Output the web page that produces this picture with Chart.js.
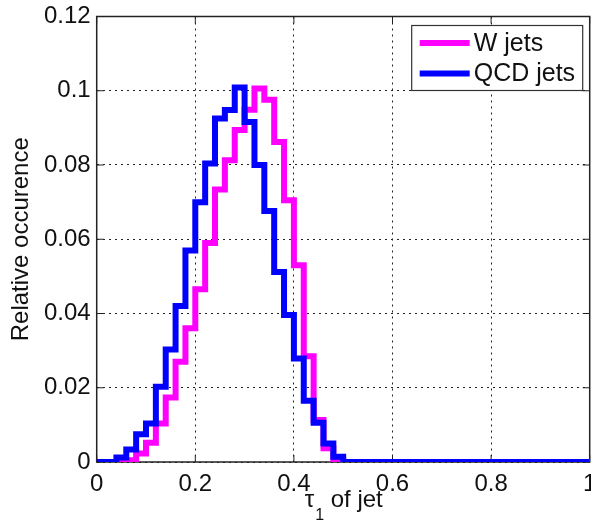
<!DOCTYPE html>
<html>
<head>
<meta charset="utf-8">
<script src="https://cdn.jsdelivr.net/npm/chart.js@4"></script>
<style>
  html, body { margin: 0; padding: 0; background: #fff; }
  #wrap { width: 591px; height: 520px; }
</style>
</head>
<body>
<div id="wrap"><canvas id="canvas" width="591" height="520"></canvas></div>
<script>
// lower edge of each histogram bin (last point closes the line at x = 1)
const binEdges = [0, 0.02, 0.04, 0.06, 0.08, 0.10, 0.12, 0.14, 0.16, 0.18, 0.20, 0.22, 0.24,
                  0.26, 0.28, 0.30, 0.32, 0.34, 0.36, 0.38, 0.40, 0.42, 0.44, 0.46, 0.48, 0.50, 1.0];
const wJets   = [0, 0, 0, 0.0005, 0.0023, 0.0052, 0.0104, 0.0174, 0.027, 0.036, 0.0465, 0.059, 0.0734,
                 0.0813, 0.0894, 0.0949, 0.1006, 0.0976, 0.0862, 0.0705, 0.053, 0.0285, 0.0113, 0.0037, 0.0005, 0, 0];
const qcdJets = [0, 0, 0.0012, 0.0034, 0.0075, 0.0104, 0.0203, 0.0303, 0.042, 0.057, 0.070, 0.0804, 0.0925,
                 0.0948, 0.1009, 0.0916, 0.080, 0.0676, 0.0512, 0.0396, 0.0279, 0.0165, 0.0106, 0.005, 0.0014, 0, 0];
const seriesNames = ['W jets', 'QCD jets'];
const xTickValues = [0, 0.2, 0.4, 0.6, 0.8, 1];
const yTickValues = [0, 0.02, 0.04, 0.06, 0.08, 0.1, 0.12];

const FONT = "'Liberation Sans', Arial, sans-serif";

function toPoints(vals) {
    return binEdges.map((x, i) => ({ x: x, y: vals[i] }));
}

// box, inward ticks, legend and x label drawn like the matlab figure
const matlabAxes = {
    id: 'matlabAxes',
    beforeDatasetsDraw(chart) {
        const { ctx, chartArea: a, scales } = chart;
        ctx.save();
        ctx.strokeStyle = '#222';
        ctx.lineWidth = 1.5;
        ctx.strokeRect(a.left, a.top, a.right - a.left, a.bottom - a.top);
        ctx.lineWidth = 1;
        const tl = 7;
        ctx.beginPath();
        xTickValues.forEach(v => {
            const px = scales.x.getPixelForValue(v);
            ctx.moveTo(px, a.bottom); ctx.lineTo(px, a.bottom - tl);
            ctx.moveTo(px, a.top); ctx.lineTo(px, a.top + tl);
        });
        yTickValues.forEach(v => {
            const py = scales.y.getPixelForValue(v);
            ctx.moveTo(a.left, py); ctx.lineTo(a.left + tl, py);
            ctx.moveTo(a.right, py); ctx.lineTo(a.right - tl, py);
        });
        ctx.stroke();
        ctx.restore();
    },
    afterDraw(chart) {
        const { ctx, chartArea: a } = chart;
        ctx.save();
        // legend
        const bx = a.right - 178, by = a.top + 9, bw = 171, bh = 65;
        ctx.fillStyle = '#fff';
        ctx.fillRect(bx, by, bw, bh);
        ctx.strokeStyle = '#333';
        ctx.lineWidth = 1.2;
        ctx.strokeRect(bx, by, bw, bh);
        ctx.font = '25px ' + FONT;
        ctx.textBaseline = 'middle';
        chart.data.datasets.forEach((ds, i) => {
            const y = by + 17.5 + i * 30.5;
            ctx.strokeStyle = ds.borderColor;
            ctx.lineWidth = 6;
            ctx.beginPath();
            ctx.moveTo(bx + 8, y); ctx.lineTo(bx + 58, y);
            ctx.stroke();
            ctx.fillStyle = '#111';
            ctx.fillText(ds.label, bx + 62, y + 1);
        });
        // x label with subscript
        const main = '24px ' + FONT, sub = '16px ' + FONT;
        ctx.font = main;
        const w1 = ctx.measureText('\u03c4').width;
        const w3 = ctx.measureText(' of jet').width;
        ctx.font = sub;
        const w2 = ctx.measureText('1').width;
        let x = (a.left + a.right) / 2 - (w1 + w2 + w3) / 2;
        const base = 507;
        ctx.textBaseline = 'alphabetic';
        ctx.fillStyle = '#111';
        ctx.font = main;
        ctx.fillText('\u03c4', x, base);
        x += w1 + 1;
        ctx.font = sub;
        ctx.fillText('1', x, base + 13);
        x += w2;
        ctx.font = main;
        ctx.fillText(' of jet', x, base);
        ctx.restore();
    }
};

const ctx = document.getElementById('canvas').getContext('2d');
const chart = new Chart(ctx, {
    type: 'line',
    data: {
        datasets: [
            {
                label: seriesNames[0],
                data: toPoints(wJets),
                borderColor: '#ff00ff',
                borderWidth: 6,
                stepped: true,
                pointRadius: 0,
                fill: false,
                order: 1,
            },
            {
                label: seriesNames[1],
                data: toPoints(qcdJets),
                borderColor: '#0000ff',
                borderWidth: 6,
                stepped: true,
                pointRadius: 0,
                fill: false,
                order: 0,
            },
        ],
    },
    options: {
        responsive: false,
        maintainAspectRatio: false,
        animation: false,
        layout: { padding: { top: 16.5, right: 1.3, left: 0, bottom: 0 } },
        plugins: { legend: { display: false }, tooltip: { enabled: false } },
        scales: {
            x: {
                type: 'linear',
                min: 0,
                max: 1,
                afterBuildTicks: s => { s.ticks = xTickValues.map(v => ({ value: v })); },
                afterFit: s => { s.height = 58; s.paddingLeft = 0; s.paddingRight = 0; },
                ticks: {
                    padding: 8,
                    maxRotation: 0,
                    color: '#111',
                    font: { family: FONT, size: 24 },
                    callback: v => String(+v.toFixed(2)),
                },
                grid: { color: '#222', drawTicks: false, lineWidth: 1 },
                border: { display: false, dash: [2, 4] },
            },
            y: {
                min: 0,
                max: 0.12,
                afterBuildTicks: s => { s.ticks = yTickValues.map(v => ({ value: v })); },
                afterFit: s => { s.width = 96.7; s.paddingTop = 0; s.paddingBottom = 0; },
                ticks: {
                    padding: 6,
                    color: '#111',
                    font: { family: FONT, size: 24 },
                    callback: v => String(+v.toFixed(3)),
                },
                grid: { color: '#222', drawTicks: false, lineWidth: 1 },
                border: { display: false, dash: [2, 4] },
                title: {
                    display: true,
                    text: 'Relative occurence',
                    color: '#111',
                    font: { family: FONT, size: 24 },
                    padding: { top: 7, bottom: 0 },
                },
            },
        },
    },
    plugins: [matlabAxes],
});
</script>
</body>
</html>
